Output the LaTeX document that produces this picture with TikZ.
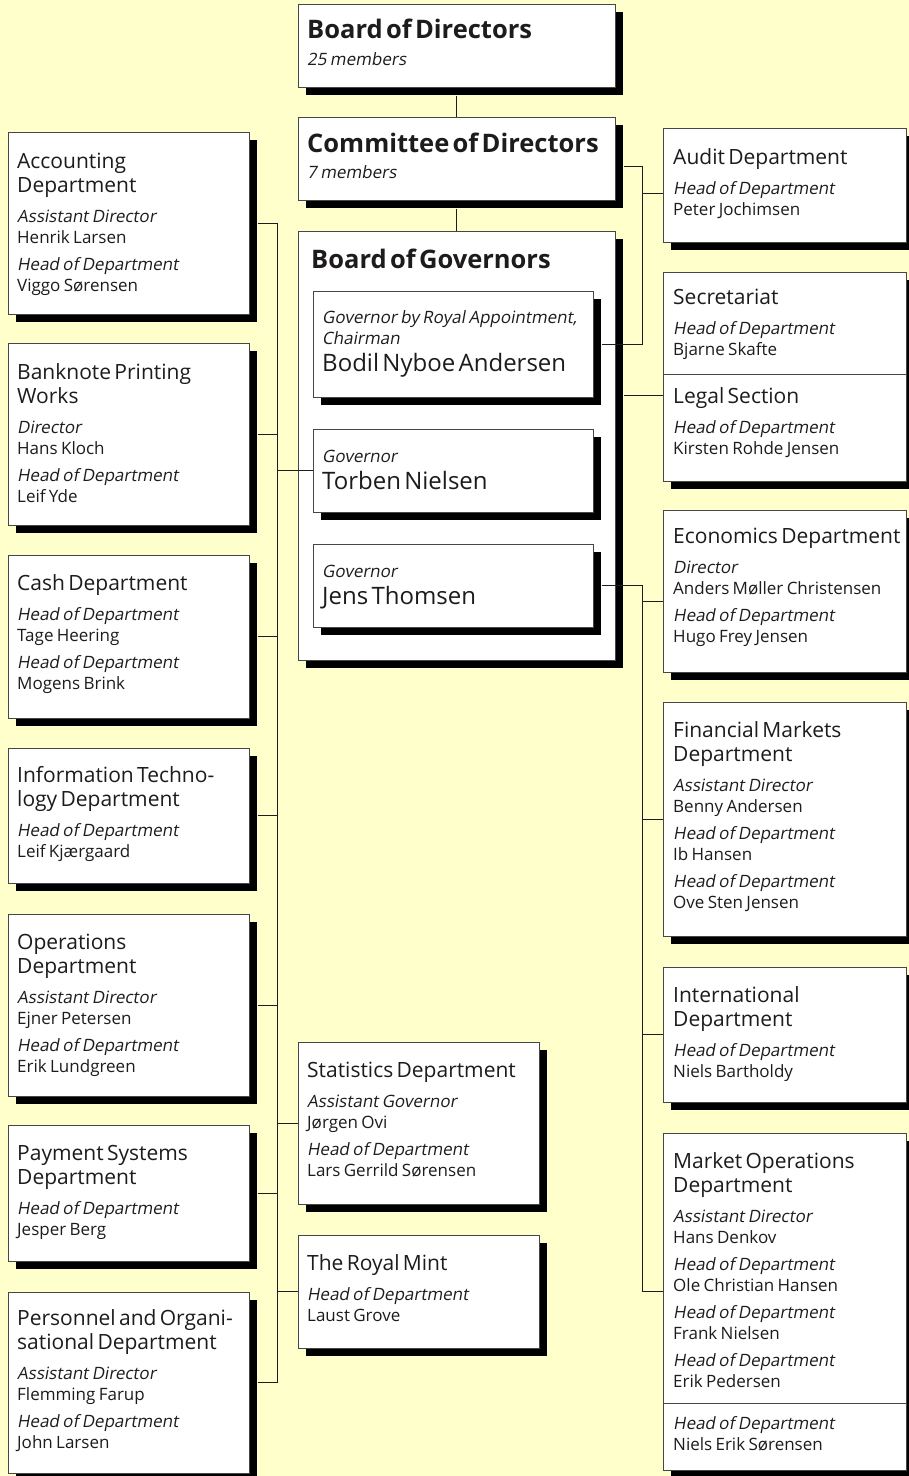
\documentclass[tikz,border=0pt]{standalone}
\usepackage{fontspec}
\setmainfont{Open Sans}[WordSpace=1.3, ItalicFont={Open Sans}, ItalicFeatures={FakeSlant=0.18}]
\usetikzlibrary{shadows}
\definecolor{bgyellow}{RGB}{255,255,204}
\definecolor{inkgray}{RGB}{30,27,28}
\definecolor{framegray}{RGB}{70,70,70}

% text blocks inside the boxes
\newcommand\unitname[1]{{\fontsize{21}{24}\selectfont #1\par}\vspace{9pt}}
\newcommand\post[2]{{\fontsize{17}{21}\selectfont\itshape #1\par\upshape #2\par}\vspace{6pt}}
\newcommand\bigname[1]{{\fontsize{25.5}{30}\selectfont\bfseries #1\par}}
\newcommand\govname[1]{{\fontsize{24}{27}\selectfont #1\par}}

\begin{document}
\begin{tikzpicture}[
  x=1pt, y=-1pt,
  box/.style={draw=framegray, fill=white, line width=0.8pt, anchor=north west, inner sep=0pt,
    drop shadow={shadow xshift=8pt, shadow yshift=-8pt, fill=black, opacity=1}},
  txt/.style={anchor=base west, inner sep=0pt, text width=300pt, align=left, text=inkgray},
  link/.style={draw=inkgray, line width=0.9pt}
]

\fill[bgyellow] (0,0) rectangle (909,1476);
\useasboundingbox (0,0) rectangle (909,1476);

% Top column
\node[box, minimum width=317, minimum height=83] (bod) at (298,4) {};
\node[txt] (bod-t) at ([shift={(9,34)}]bod.north west) {\bigname{Board of Directors}{\fontsize{17}{27}\selectfont\itshape 25 members\par}};

\node[box, minimum width=317, minimum height=83] (cod) at (298,117) {};
\node[txt] (cod-t) at ([shift={(9,35)}]cod.north west) {\bigname{Committee of Directors}{\fontsize{17}{26}\selectfont\itshape 7 members\par}};

\node[box, minimum width=317, minimum height=429] (bog) at (298,231) {};
\node[txt] (bog-t) at ([shift={(13,37)}]bog.north west) {\bigname{Board of Governors}};

% Governors
\node[box, minimum width=280, minimum height=106] (bodil) at (313,291) {};
\node[txt] (bodil-t) at ([shift={(9,32)}]bodil.north west) {{\fontsize{17}{21}\selectfont\itshape Governor by Royal Appointment,\newline Chairman\par}\govname{Bodil Nyboe Andersen}};

\node[box, minimum width=280, minimum height=83] (torben) at (313,429) {};
\node[txt] (torben-t) at ([shift={(9,33)}]torben.north west) {{\fontsize{17}{21}\selectfont\itshape Governor\par}\govname{Torben Nielsen}};

\node[box, minimum width=280, minimum height=83] (jens) at (313,544) {};
\node[txt] (jens-t) at ([shift={(9,33)}]jens.north west) {{\fontsize{17}{21}\selectfont\itshape Governor\par}\govname{Jens Thomsen}};

% Left column
\node[box, minimum width=241, minimum height=182] (acc) at (8,132) {};
\node[txt] (acc-t) at ([shift={(9,36)}]acc.north west) {\unitname{Accounting\newline Department}\post{Assistant Director}{Henrik Larsen}\post{Head of Department}{Viggo Sørensen}};

\node[box, minimum width=241, minimum height=182] (bank) at (8,343) {};
\node[txt] (bank-t) at ([shift={(9,36)}]bank.north west) {\unitname{Banknote Printing\newline Works}\post{Director}{Hans Kloch}\post{Head of Department}{Leif Yde}};

\node[box, minimum width=241, minimum height=163] (cash) at (8,555) {};
\node[txt] (cash-t) at ([shift={(9,35)}]cash.north west) {\unitname{Cash Department}\post{Head of Department}{Tage Heering}\post{Head of Department}{Mogens Brink}};

\node[box, minimum width=241, minimum height=135] (itd) at (8,748) {};
\node[txt] (itd-t) at ([shift={(9,34)}]itd.north west) {\unitname{Information Techno-\newline logy Department}\post{Head of Department}{Leif Kjærgaard}};

\node[box, minimum width=241, minimum height=182] (ops) at (8,914) {};
\node[txt] (ops-t) at ([shift={(9,35)}]ops.north west) {\unitname{Operations\newline Department}\post{Assistant Director}{Ejner Petersen}\post{Head of Department}{Erik Lundgreen}};

\node[box, minimum width=241, minimum height=136] (pay) at (8,1125) {};
\node[txt] (pay-t) at ([shift={(9,35)}]pay.north west) {\unitname{Payment Systems\newline Department}\post{Head of Department}{Jesper Berg}};

\node[box, minimum width=241, minimum height=181] (pers) at (8,1292) {};
\node[txt] (pers-t) at ([shift={(9,33)}]pers.north west) {\unitname{Personnel and Organi-\newline sational Department}\post{Assistant Director}{Flemming Farup}\post{Head of Department}{John Larsen}};

% Middle, lower part
\node[box, minimum width=241, minimum height=162] (stats) at (298,1042) {};
\node[txt] (stats-t) at ([shift={(9,35)}]stats.north west) {\unitname{Statistics Department}\post{Assistant Governor}{Jørgen Ovi}\post{Head of Department}{Lars Gerrild Sørensen}};

\node[box, minimum width=241, minimum height=113] (mint) at (298,1235) {};
\node[txt] (mint-t) at ([shift={(9,35)}]mint.north west) {\unitname{The Royal Mint}\post{Head of Department}{Laust Grove}};

% Right column
\node[box, minimum width=243, minimum height=114] (audit) at (663,128) {};
\node[txt] (audit-t) at ([shift={(10,36)}]audit.north west) {\unitname{Audit Department}\post{Head of Department}{Peter Jochimsen}};

\node[box, minimum width=243, minimum height=102] (secr) at (663,272) {};
\node[txt] (secr-t) at ([shift={(10,32)}]secr.north west) {\unitname{Secretariat}\post{Head of Department}{Bjarne Skafte}};

\node[box, minimum width=243, minimum height=107] (legal) at (663,374) {};
\node[txt] (legal-t) at ([shift={(10,29)}]legal.north west) {\unitname{Legal Section}\post{Head of Department}{Kirsten Rohde Jensen}};

\node[box, minimum width=243, minimum height=162] (econ) at (663,510) {};
\node[txt] (econ-t) at ([shift={(10,33)}]econ.north west) {\unitname{Economics Department}\post{Director}{Anders Møller Christensen}\post{Head of Department}{Hugo Frey Jensen}};

\node[box, minimum width=243, minimum height=234] (fin) at (663,702) {};
\node[txt] (fin-t) at ([shift={(10,35)}]fin.north west) {\unitname{Financial Markets\newline Department}\post{Assistant Director}{Benny Andersen}\post{Head of Department}{Ib Hansen}\post{Head of Department}{Ove Sten Jensen}};

\node[box, minimum width=243, minimum height=135] (intl) at (663,967) {};
\node[txt] (intl-t) at ([shift={(10,35)}]intl.north west) {\unitname{International\newline Department}\post{Head of Department}{Niels Bartholdy}};

\node[box, minimum width=243, minimum height=270] (mkt) at (663,1133) {};
\node[txt] (mkt-t) at ([shift={(10,35)}]mkt.north west) {\unitname{Market Operations\newline Department}\post{Assistant Director}{Hans Denkov}\post{Head of Department}{Ole Christian Hansen}\post{Head of Department}{Frank Nielsen}\post{Head of Department}{Erik Pedersen}};

\node[box, minimum width=243, minimum height=67] (mktb) at (663,1403) {};
\node[txt] (mktb-t) at ([shift={(10,26)}]mktb.north west) {\post{Head of Department}{Niels Erik Sørensen}};

% Connectors, top column
\draw[link] ([yshift=-8pt]bod.south) -- (cod.north);
\draw[link] ([yshift=-8pt]cod.south) -- (bog.north);

% Connectors, left bus
\coordinate (lbus) at (277,0);
\draw[link] (lbus |- acc.east) -- (lbus |- pers.east);
\draw[link] ([xshift=8pt]acc.east) -- (lbus |- acc.east);
\draw[link] ([xshift=8pt]bank.east) -- (lbus |- bank.east);
\draw[link] ([xshift=8pt]cash.east) -- (lbus |- cash.east);
\draw[link] ([xshift=8pt]itd.east) -- (lbus |- itd.east);
\draw[link] ([xshift=8pt]ops.east) -- (lbus |- ops.east);
\draw[link] ([xshift=8pt]pay.east) -- (lbus |- pay.east);
\draw[link] ([xshift=8pt]pers.east) -- (lbus |- pers.east);
\draw[link] (lbus |- torben.west) -- (torben.west);
\draw[link] (lbus |- stats.west) -- (stats.west);
\draw[link] (lbus |- mint.west) -- (mint.west);

% Connectors, right side
\coordinate (rbus) at (642,0);
\coordinate (codout) at ([xshift=8pt,yshift=-8pt]cod.east);
\coordinate (auditin) at ([yshift=-8pt]audit.west);
\coordinate (bogout) at ([xshift=8pt]bog.east);
\coordinate (legalin) at ([yshift=-21pt]legal.north west);
\coordinate (econin) at ([yshift=-10pt]econ.west);
\coordinate (mktin) at ([yshift=-23pt]mkt.west);
\draw[link] (codout) -| (rbus |- bodil.east) -- ([xshift=8pt]bodil.east);
\draw[link] (rbus |- auditin) -- (auditin);
\draw[link] (bogout |- legalin) -- (legalin);
\draw[link] ([xshift=8pt]jens.east) -- (rbus |- jens.east) -- (rbus |- mktin) -- (mktin);
\draw[link] (rbus |- econin) -- (econin);
\draw[link] (rbus |- fin.west) -- (fin.west);
\draw[link] (rbus |- intl.west) -- (intl.west);

\end{tikzpicture}
\end{document}
